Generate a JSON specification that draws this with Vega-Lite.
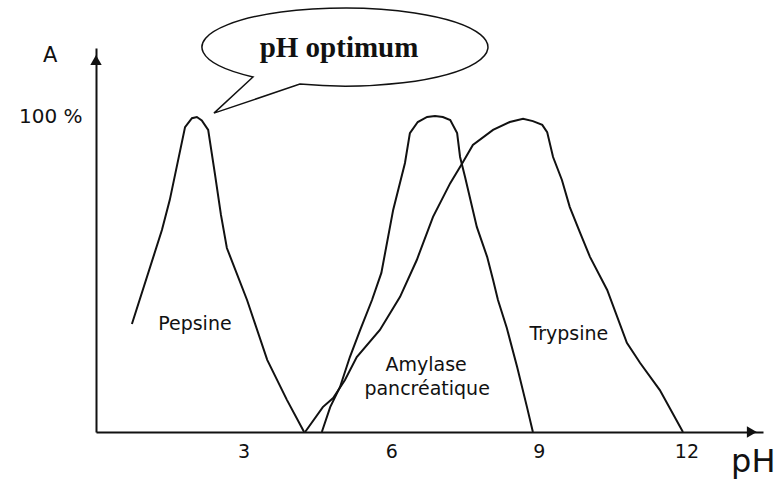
{
  "$schema": "https://vega.github.io/schema/vega-lite/v6.json",
  "autosize": {"type": "none"},
  "padding": {"left": 96, "top": 48, "right": 16, "bottom": 50},
  "width": 667,
  "height": 384,
  "background": "white",
  "config": {"view": {"stroke": null}},
  "datasets": {
    "curves": [
      {"enzyme": "Pepsine", "pH": 0.73, "A": 34.3},
      {"enzyme": "Pepsine", "pH": 1.34, "A": 64.1},
      {"enzyme": "Pepsine", "pH": 1.5, "A": 73.7},
      {"enzyme": "Pepsine", "pH": 1.81, "A": 96.8},
      {"enzyme": "Pepsine", "pH": 1.95, "A": 99.6},
      {"enzyme": "Pepsine", "pH": 2.05, "A": 100},
      {"enzyme": "Pepsine", "pH": 2.15, "A": 98.9},
      {"enzyme": "Pepsine", "pH": 2.28, "A": 95.9},
      {"enzyme": "Pepsine", "pH": 2.42, "A": 81.6},
      {"enzyme": "Pepsine", "pH": 2.54, "A": 68.9},
      {"enzyme": "Pepsine", "pH": 2.66, "A": 58.4},
      {"enzyme": "Pepsine", "pH": 3.07, "A": 41.9},
      {"enzyme": "Pepsine", "pH": 3.48, "A": 22.9},
      {"enzyme": "Pepsine", "pH": 3.88, "A": 10.2},
      {"enzyme": "Pepsine", "pH": 4.23, "A": 0},
      {"enzyme": "Amylase", "pH": 4.59, "A": 0},
      {"enzyme": "Amylase", "pH": 4.76, "A": 7.9},
      {"enzyme": "Amylase", "pH": 4.96, "A": 14.3},
      {"enzyme": "Amylase", "pH": 5.16, "A": 23.8},
      {"enzyme": "Amylase", "pH": 5.37, "A": 32.4},
      {"enzyme": "Amylase", "pH": 5.61, "A": 41.9},
      {"enzyme": "Amylase", "pH": 5.8, "A": 50.5},
      {"enzyme": "Amylase", "pH": 6.04, "A": 70.5},
      {"enzyme": "Amylase", "pH": 6.28, "A": 85.4},
      {"enzyme": "Amylase", "pH": 6.38, "A": 94.9},
      {"enzyme": "Amylase", "pH": 6.54, "A": 98.4},
      {"enzyme": "Amylase", "pH": 6.73, "A": 100},
      {"enzyme": "Amylase", "pH": 6.89, "A": 100.3},
      {"enzyme": "Amylase", "pH": 7.05, "A": 100},
      {"enzyme": "Amylase", "pH": 7.2, "A": 99.0},
      {"enzyme": "Amylase", "pH": 7.34, "A": 94.9},
      {"enzyme": "Amylase", "pH": 7.4, "A": 87.3},
      {"enzyme": "Amylase", "pH": 7.5, "A": 81.0},
      {"enzyme": "Amylase", "pH": 7.74, "A": 65.1},
      {"enzyme": "Amylase", "pH": 7.95, "A": 55.6},
      {"enzyme": "Amylase", "pH": 8.07, "A": 48.3},
      {"enzyme": "Amylase", "pH": 8.17, "A": 41.9},
      {"enzyme": "Amylase", "pH": 8.35, "A": 33.0},
      {"enzyme": "Amylase", "pH": 8.56, "A": 20.6},
      {"enzyme": "Amylase", "pH": 8.76, "A": 7.9},
      {"enzyme": "Amylase", "pH": 8.88, "A": 0},
      {"enzyme": "Trypsine", "pH": 4.25, "A": 0},
      {"enzyme": "Trypsine", "pH": 4.61, "A": 7.9},
      {"enzyme": "Trypsine", "pH": 4.82, "A": 10.8},
      {"enzyme": "Trypsine", "pH": 5.06, "A": 16.5},
      {"enzyme": "Trypsine", "pH": 5.3, "A": 23.8},
      {"enzyme": "Trypsine", "pH": 5.77, "A": 32.4},
      {"enzyme": "Trypsine", "pH": 6.18, "A": 42.9},
      {"enzyme": "Trypsine", "pH": 6.52, "A": 54.6},
      {"enzyme": "Trypsine", "pH": 6.85, "A": 68.3},
      {"enzyme": "Trypsine", "pH": 7.2, "A": 79.0},
      {"enzyme": "Trypsine", "pH": 7.46, "A": 85.7},
      {"enzyme": "Trypsine", "pH": 7.66, "A": 91.1},
      {"enzyme": "Trypsine", "pH": 8.07, "A": 95.9},
      {"enzyme": "Trypsine", "pH": 8.41, "A": 98.4},
      {"enzyme": "Trypsine", "pH": 8.68, "A": 99.4},
      {"enzyme": "Trypsine", "pH": 8.88, "A": 98.7},
      {"enzyme": "Trypsine", "pH": 9.07, "A": 97.5},
      {"enzyme": "Trypsine", "pH": 9.17, "A": 95.2},
      {"enzyme": "Trypsine", "pH": 9.29, "A": 87.3},
      {"enzyme": "Trypsine", "pH": 9.47, "A": 80.0},
      {"enzyme": "Trypsine", "pH": 9.63, "A": 71.4},
      {"enzyme": "Trypsine", "pH": 9.84, "A": 63.2},
      {"enzyme": "Trypsine", "pH": 10.04, "A": 55.6},
      {"enzyme": "Trypsine", "pH": 10.39, "A": 45.1},
      {"enzyme": "Trypsine", "pH": 10.79, "A": 28.3},
      {"enzyme": "Trypsine", "pH": 11.06, "A": 21.9},
      {"enzyme": "Trypsine", "pH": 11.46, "A": 13.3},
      {"enzyme": "Trypsine", "pH": 11.93, "A": 0}
    ],
    "names": [
      {"label": "Pepsine", "pH": 2.01, "A": 34.3},
      {"label": "Amylase", "pH": 6.71, "A": 21.3},
      {"label": "pancréatique", "pH": 6.73, "A": 13.7},
      {"label": "Trypsine", "pH": 9.61, "A": 31.1}
    ]
  },
  "encoding": {
    "x": {
      "field": "pH", "type": "quantitative",
      "scale": {"domain": [0, 13.557], "nice": false, "zero": false},
      "axis": {
        "values": [3, 6, 9, 12], "title": null, "grid": false, "ticks": false,
        "domainColor": "#111", "domainWidth": 2, "labelFont": "DejaVu Sans",
        "labelFontSize": 19, "labelColor": "#111", "labelPadding": 10
      }
    },
    "y": {
      "field": "A", "type": "quantitative",
      "scale": {"domain": [0, 121.9], "nice": false, "zero": false},
      "axis": {
        "values": [100], "title": null, "grid": false, "ticks": false,
        "domainColor": "#111", "domainWidth": 2, "labelFont": "DejaVu Sans",
        "labelFontSize": 20, "labelColor": "#111", "labelPadding": 14,
        "labelExpr": "datum.value + ' %'"
      }
    }
  },
  "layer": [
    {
      "data": {"name": "curves"},
      "mark": {"type": "line", "color": "#111", "strokeWidth": 2},
      "encoding": {"detail": {"field": "enzyme"}}
    },
    {
      "data": {"values": [{"pH": 13.33, "A": 0}]},
      "mark": {"type": "point", "shape": "triangle-right", "filled": true, "color": "#111", "size": 130, "opacity": 1}
    },
    {
      "data": {"values": [{"pH": 0, "A": 118.1}]},
      "mark": {"type": "point", "shape": "triangle-up", "filled": true, "color": "#111", "size": 130, "opacity": 1}
    },
    {
      "data": {"name": "names"},
      "mark": {"type": "text", "font": "DejaVu Sans", "fontSize": 19, "color": "#111", "baseline": "middle", "align": "center"},
      "encoding": {"text": {"field": "label"}}
    },
    {
      "data": {"values": [{"label": "A", "pH": -0.93, "A": 119.4}]},
      "mark": {"type": "text", "font": "DejaVu Sans", "fontSize": 21, "color": "#111", "baseline": "middle", "align": "center"},
      "encoding": {"text": {"field": "label"}}
    },
    {
      "data": {"values": [{"label": "pH", "pH": 13.36, "A": -9.5}]},
      "mark": {"type": "text", "font": "DejaVu Sans", "fontSize": 32, "color": "#111", "baseline": "middle", "align": "center"},
      "encoding": {"text": {"field": "label"}}
    },
    {
      "data": {"values": [{"pH": 5.06, "A": 122.2}]},
      "mark": {
        "type": "point",
        "shape": "M-0.315,0.259 A1,0.273 0 1,0 -0.643,0.209 L-0.916,0.462 Z",
        "size": 81796, "filled": true, "fill": "white", "stroke": "#111",
        "strokeWidth": 1.5, "opacity": 1, "fillOpacity": 1, "strokeOpacity": 1
      }
    },
    {
      "data": {"values": [{"label": "pH optimum", "pH": 4.94, "A": 119.0}]},
      "mark": {"type": "text", "font": "Liberation Serif", "fontWeight": "bold", "fontSize": 29, "color": "#111", "baseline": "alphabetic", "align": "center"},
      "encoding": {"text": {"field": "label"}}
    }
  ]
}
